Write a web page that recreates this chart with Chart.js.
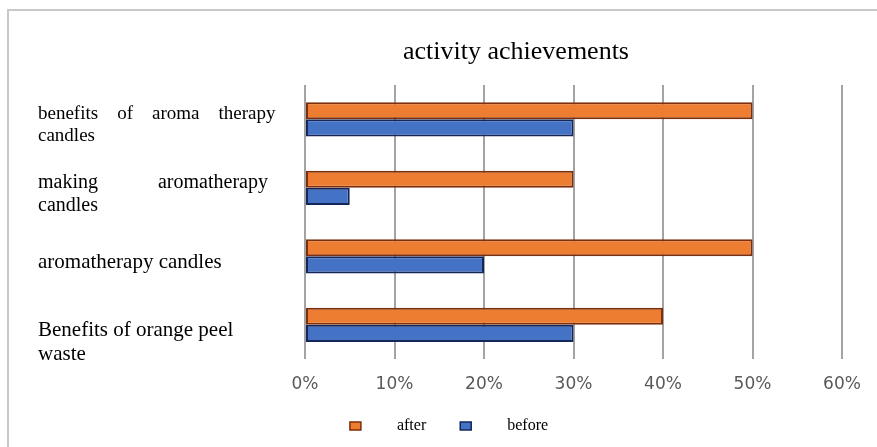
<!DOCTYPE html>
<html>
<head>
<meta charset="utf-8">
<title>activity achievements</title>
<script src="https://cdn.jsdelivr.net/npm/chart.js@4.4.1/dist/chart.umd.min.js"></script>
<style>
  html, body { margin: 0; padding: 0; background: #fff; }
  #wrap { position: relative; width: 877px; height: 447px; overflow: hidden; }
  /* cadre gris du graphique (haut + gauche) */
  #frame {
    position: absolute; left: 7px; top: 9px; width: 900px; height: 460px;
    border-top: 2px solid #c8c8c8; border-left: 2px solid #c8c8c8;
  }
  #chart { position: absolute; left: 0; top: 0; }
</style>
</head>
<body>
<div id="wrap">
  <div id="frame"></div>
  <canvas id="chart" width="877" height="447"></canvas>
</div>
<script>
// ---- données ----
const NB = '\u00a0';
const categories = [
    ['benefits' + NB.repeat(4) + 'of' + NB.repeat(4) + 'aroma' + NB.repeat(4) + 'therapy', 'candles'],
    ['making' + NB.repeat(12) + 'aromatherapy', 'candles'],
    'aromatherapy candles',
    ['Benefits of orange peel', 'waste']
];
const afterValues = [50, 30, 50, 40];
const beforeValues = [30, 5, 20, 30];
const xTicks = [0, 10, 20, 30, 40, 50, 60];
const seriesLabels = ['after', 'before'];
const chartTitle = 'activity achievements';

// Titre décalé (centré comme dans l'original)
const offsetTitle = {
    id: 'offsetTitle',
    afterLayout(chart) {
        // légende un peu décalée vers la droite
        chart.legend.left += 9;
        chart.legend.right += 9;
    },
    afterDraw(chart) {
        const ctx = chart.ctx;
        ctx.save();
        ctx.font = '26px "Liberation Serif"';
        ctx.fillStyle = '#000';
        ctx.textAlign = 'center';
        ctx.textBaseline = 'alphabetic';
        ctx.fillText(chartTitle, 516, 59);
        ctx.restore();
    }
};

const labelSizes = [19, 20, 21, 21];

new Chart(document.getElementById('chart'), {
    type: 'bar',
    data: {
        labels: categories,
        datasets: [
            {
                label: seriesLabels[0],
                data: afterValues,
                backgroundColor: '#ED7D31',
                borderColor: '#7d2e0c',
                borderWidth: 2,
                borderSkipped: false
            },
            {
                label: seriesLabels[1],
                data: beforeValues,
                backgroundColor: '#4472C4',
                borderColor: '#15275a',
                borderWidth: 2,
                borderSkipped: false
            }
        ]
    },
    options: {
        indexAxis: 'y',
        responsive: false,
        animation: false,
        categoryPercentage: 0.5,
        barPercentage: 1.0,
        layout: { padding: { left: 38, right: 35, top: 85, bottom: 3 } },
        plugins: {
            title: { display: false },
            tooltip: { enabled: false },
            legend: {
                position: 'bottom',
                labels: {
                    boxWidth: 11,
                    boxHeight: 8,
                    padding: 10,
                    color: '#000',
                    font: { family: '"Liberation Serif"', size: 16 },
                    generateLabels: chart => chart.data.datasets.map((ds, i) => ({
                        text: NB.repeat(7) + ds.label + (i === 0 ? NB.repeat(6) : ''),
                        fillStyle: ds.backgroundColor,
                        strokeStyle: ds.borderColor,
                        lineWidth: 1.5,
                        hidden: false,
                        datasetIndex: i
                    }))
                }
            }
        },
        scales: {
            x: {
                min: xTicks[0],
                max: xTicks[xTicks.length - 1],
                afterBuildTicks: scale => { scale.ticks = xTicks.map(v => ({ value: v })); },
                afterFit: scale => { scale.height = 49; },
                border: { display: false },
                grid: { color: '#a3a3a3', lineWidth: 2, drawTicks: false },
                ticks: {
                    padding: 15,
                    color: '#595959',
                    font: { family: '"DejaVu Sans"', size: 17 },
                    callback: v => v + '%'
                }
            },
            y: {
                afterFit: scale => { scale.width = 267; },
                border: { display: false },
                grid: { display: false },
                ticks: {
                    autoSkip: false,
                    crossAlign: 'far',
                    labelOffset: 6,
                    color: '#000',
                    // dernière étiquette plus basse, comme dans l'original
                    callback: (v, i) => i === 3 ? [''].concat(categories[i]) : categories[i],
                    font: ctx => ({ family: '"Liberation Serif"', size: labelSizes[ctx.index] || 20, lineHeight: 1.15 })
                }
            }
        }
    },
    plugins: [offsetTitle]
});
</script>
</body>
</html>
